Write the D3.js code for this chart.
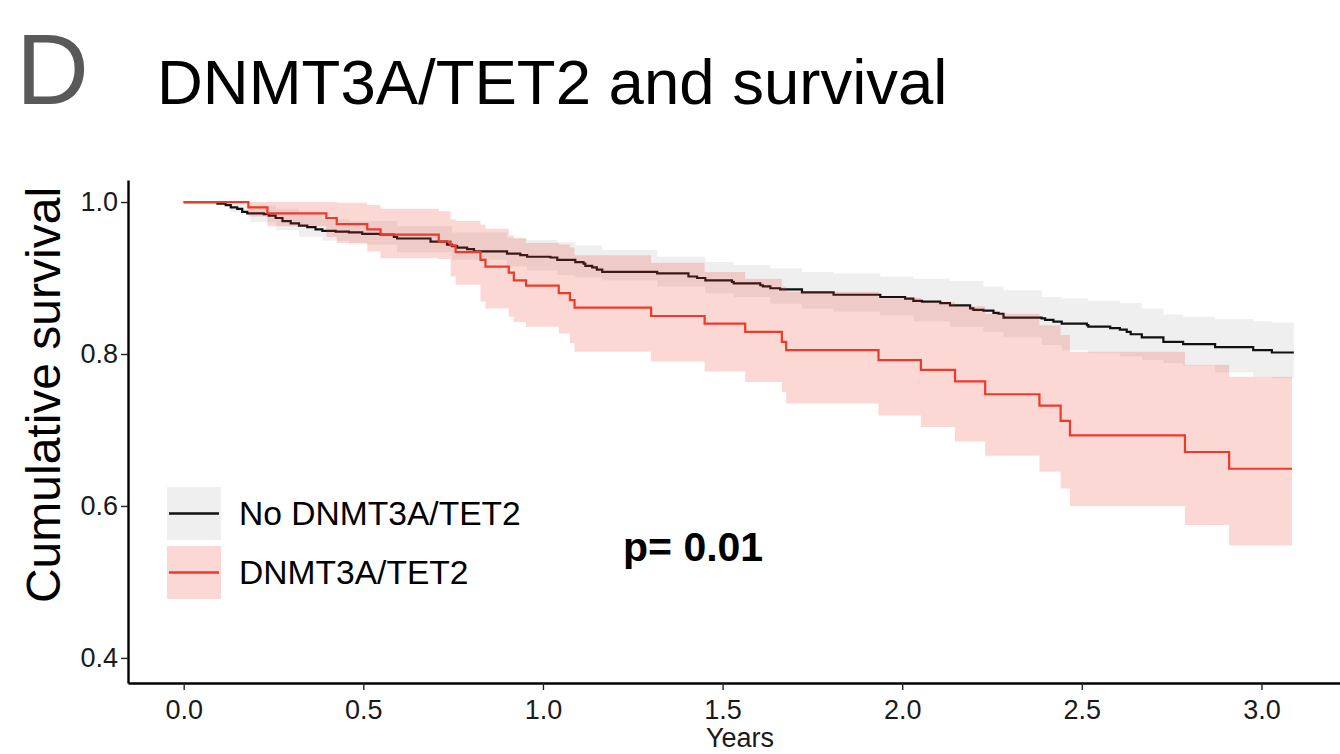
<!DOCTYPE html>
<html>
<head>
<meta charset="utf-8">
<script src="https://cdn.jsdelivr.net/npm/d3@7"></script>
<style>
  html, body { margin: 0; padding: 0; background: #fff; }
  svg { display: block; font-family: "Liberation Sans", Arial, Helvetica, sans-serif; }
</style>
</head>
<body>
<svg id="chart" width="1340" height="754"></svg>
<script>
// ---------- data ----------
const groups = ["No DNMT3A/TET2", "DNMT3A/TET2"];
const xTicks = [0, 0.5, 1.0, 1.5, 2.0, 2.5, 3.0];
const yTicks = [0.4, 0.6, 0.8, 1.0];
const pText = "p= 0.01";

// DNMT3A/TET2 (red) Kaplan-Meier steps
const redTime  = [0, 0.180, 0.233, 0.397, 0.426, 0.511, 0.548, 0.710, 0.743, 0.757, 0.826, 0.840, 0.905, 0.919, 0.953, 1.044, 1.075, 1.088, 1.301, 1.450, 1.563, 1.665, 1.677, 1.934, 2.052, 2.147, 2.231, 2.382, 2.441, 2.467, 2.787, 2.910, 3.085];
const redSurv  = [1, 0.993, 0.985, 0.979, 0.971, 0.964, 0.957, 0.948, 0.943, 0.934, 0.924, 0.915, 0.907, 0.897, 0.890, 0.880, 0.871, 0.861, 0.850, 0.840, 0.829, 0.816, 0.805, 0.792, 0.779, 0.764, 0.747, 0.732, 0.712, 0.693, 0.671, 0.649, 0.649];
const redLower = [1, 0.981, 0.968, 0.954, 0.946, 0.935, 0.926, 0.925, 0.902, 0.891, 0.869, 0.860, 0.849, 0.842, 0.836, 0.827, 0.814, 0.803, 0.790, 0.777, 0.763, 0.750, 0.735, 0.719, 0.704, 0.685, 0.666, 0.645, 0.623, 0.600, 0.575, 0.548, 0.548];
const redUpper = [1, 1, 1, 1, 0.999, 0.996, 0.991, 0.988, 0.977, 0.975, 0.970, 0.965, 0.956, 0.952, 0.946, 0.944, 0.940, 0.930, 0.920, 0.908, 0.899, 0.889, 0.882, 0.874, 0.868, 0.863, 0.853, 0.838, 0.825, 0.803, 0.786, 0.770, 0.770];

// No DNMT3A/TET2 (black) Kaplan-Meier steps
const blackTime = [0, 0.094, 0.117, 0.131, 0.149, 0.163, 0.177, 0.223, 0.237, 0.256, 0.275, 0.298, 0.321, 0.344, 0.367, 0.386, 0.423, 0.460, 0.497, 0.548, 0.585, 0.594, 0.687, 0.733, 0.747, 0.761, 0.789, 0.808, 0.900, 0.937, 0.956, 1.021, 1.040, 1.090, 1.113, 1.118, 1.137, 1.150, 1.165, 1.318, 1.405, 1.429, 1.452, 1.526, 1.531, 1.605, 1.612, 1.633, 1.660, 1.721, 1.809, 1.939, 2.008, 2.031, 2.055, 2.106, 2.133, 2.189, 2.198, 2.226, 2.254, 2.268, 2.282, 2.388, 2.398, 2.421, 2.444, 2.514, 2.518, 2.579, 2.606, 2.625, 2.636, 2.667, 2.727, 2.782, 2.871, 2.977, 3.029, 3.090];
const blackSurv = [1, 0.998, 0.996, 0.993, 0.991, 0.987, 0.985, 0.984, 0.982, 0.979, 0.975, 0.972, 0.969, 0.967, 0.964, 0.962, 0.961, 0.960, 0.958, 0.957, 0.954, 0.952, 0.948, 0.944, 0.942, 0.940, 0.938, 0.935, 0.932, 0.930, 0.928, 0.927, 0.924, 0.921, 0.919, 0.916, 0.914, 0.911, 0.908, 0.906, 0.902, 0.900, 0.897, 0.895, 0.893, 0.8905, 0.889, 0.8865, 0.885, 0.881, 0.878, 0.875, 0.873, 0.870, 0.869, 0.867, 0.864, 0.860, 0.858, 0.857, 0.854, 0.853, 0.848, 0.847, 0.845, 0.8425, 0.840, 0.838, 0.836, 0.834, 0.832, 0.829, 0.826, 0.822, 0.816, 0.813, 0.809, 0.805, 0.802, 0.802];
const blackBandTime = [0, 0.094, 0.131, 0.186, 0.256, 0.321, 0.386, 0.460, 0.594, 0.747, 0.900, 0.956, 1.040, 1.090, 1.165, 1.318, 1.452, 1.531, 1.633, 1.721, 1.809, 1.939, 2.031, 2.133, 2.226, 2.282, 2.388, 2.444, 2.518, 2.606, 2.667, 2.727, 2.782, 2.871, 2.977, 3.029, 3.090];
const blackUpper = [1, 1, 0.998, 0.995, 0.991, 0.984, 0.977, 0.975, 0.968, 0.960, 0.953, 0.950, 0.947, 0.943, 0.937, 0.928, 0.921, 0.917, 0.913, 0.908, 0.906, 0.902, 0.899, 0.896, 0.889, 0.884, 0.875, 0.873, 0.870, 0.867, 0.860, 0.852, 0.849, 0.846, 0.843, 0.841, 0.841];
const blackLower = [1, 0.997, 0.987, 0.974, 0.963, 0.954, 0.949, 0.944, 0.934, 0.924, 0.915, 0.910, 0.904, 0.901, 0.897, 0.889, 0.880, 0.875, 0.866, 0.860, 0.856, 0.851, 0.843, 0.836, 0.829, 0.822, 0.812, 0.805, 0.801, 0.797, 0.792, 0.788, 0.785, 0.776, 0.770, 0.768, 0.766];

// ---------- styles ----------
const RED = "#EE3A2B";
const RED_FILL = "rgba(238,58,43,0.2)";
const GREY_FILL = "#EFEFEF";

const svg = d3.select("#chart");

const x = d3.scaleLinear().domain([-0.155, 3.252]).range([128, 1352]);
const y = d3.scaleLinear().domain([0.367, 1.029]).range([683, 180]);

const redPts = redTime.map((t, i) => ({ t, s: redSurv[i], lo: redLower[i], hi: redUpper[i] }));
const blackPts = blackTime.map((t, i) => ({ t, s: blackSurv[i] }));
const blackBand = blackBandTime.map((t, i) => ({ t, lo: blackLower[i], hi: blackUpper[i] }));

const area = d3.area().x(d => x(d.t)).y0(d => y(d.lo)).y1(d => y(d.hi)).curve(d3.curveStepAfter);
const line = d3.line().x(d => x(d.t)).y(d => y(d.s)).curve(d3.curveStepAfter);

const plot = svg.append("g");
plot.append("path").datum(blackBand).attr("d", area).attr("fill", GREY_FILL);
plot.append("path").datum(blackPts).attr("d", line).attr("fill", "none").attr("stroke", "#111").attr("stroke-width", 2.2);
plot.append("path").datum(redPts).attr("d", area).attr("fill", RED_FILL);
plot.append("path").datum(redPts).attr("d", line).attr("fill", "none").attr("stroke", RED).attr("stroke-width", 2.2);

// axes
const yAxis = svg.append("g").attr("transform", "translate(128,0)")
  .call(d3.axisLeft(y).tickValues(yTicks).tickFormat(d3.format(".1f")).tickSize(7).tickSizeOuter(0).tickPadding(3));
const xAxis = svg.append("g").attr("transform", "translate(0,683)")
  .call(d3.axisBottom(x).tickValues(xTicks).tickFormat(d3.format(".1f")).tickSize(7).tickSizeOuter(0).tickPadding(10));
[yAxis, xAxis].forEach(a => {
  a.select(".domain").attr("stroke", "#000").attr("stroke-width", 2.4);
  a.selectAll(".tick line").attr("stroke", "#222").attr("stroke-width", 1.4);
  a.selectAll(".tick text").attr("fill", "#1a1a1a").style("font-size", "27px")
    .style("font-family", "'Liberation Sans', Arial, Helvetica, sans-serif");
});

// axis titles
svg.append("text").attr("x", 740).attr("y", 747).attr("text-anchor", "middle")
  .style("font-size", "27px").attr("fill", "#1a1a1a").text("Years");
svg.append("text").attr("transform", "translate(60,395) rotate(-90)").attr("text-anchor", "middle")
  .style("font-size", "48px").attr("fill", "#000").text("Cumulative survival");

// title and panel letter
svg.append("text").attr("x", 16).attr("y", 104).style("font-size", "101px").attr("fill", "#595959").text("D");
svg.append("text").attr("x", 157).attr("y", 104).style("font-size", "63.5px").attr("fill", "#000").text("DNMT3A/TET2 and survival");

// legend
const leg = svg.append("g");
const legendRows = [
  { label: groups[0], fill: GREY_FILL, stroke: "#111", y0: 487 },
  { label: groups[1], fill: RED_FILL, stroke: RED, y0: 546 }
];
legendRows.forEach(r => {
  leg.append("rect").attr("x", 167).attr("y", r.y0).attr("width", 54).attr("height", 53).attr("fill", r.fill);
  leg.append("line").attr("x1", 169).attr("x2", 219).attr("y1", r.y0 + 26.5).attr("y2", r.y0 + 26.5)
    .attr("stroke", r.stroke).attr("stroke-width", 2.4);
  leg.append("text").attr("x", 239).attr("y", r.y0 + 38).style("font-size", "33.6px").attr("fill", "#000").text(r.label);
});

// p-value
svg.append("text").attr("x", 623).attr("y", 561).style("font-size", "41px").style("font-weight", "bold")
  .attr("fill", "#000").text(pText);
</script>
</body>
</html>
